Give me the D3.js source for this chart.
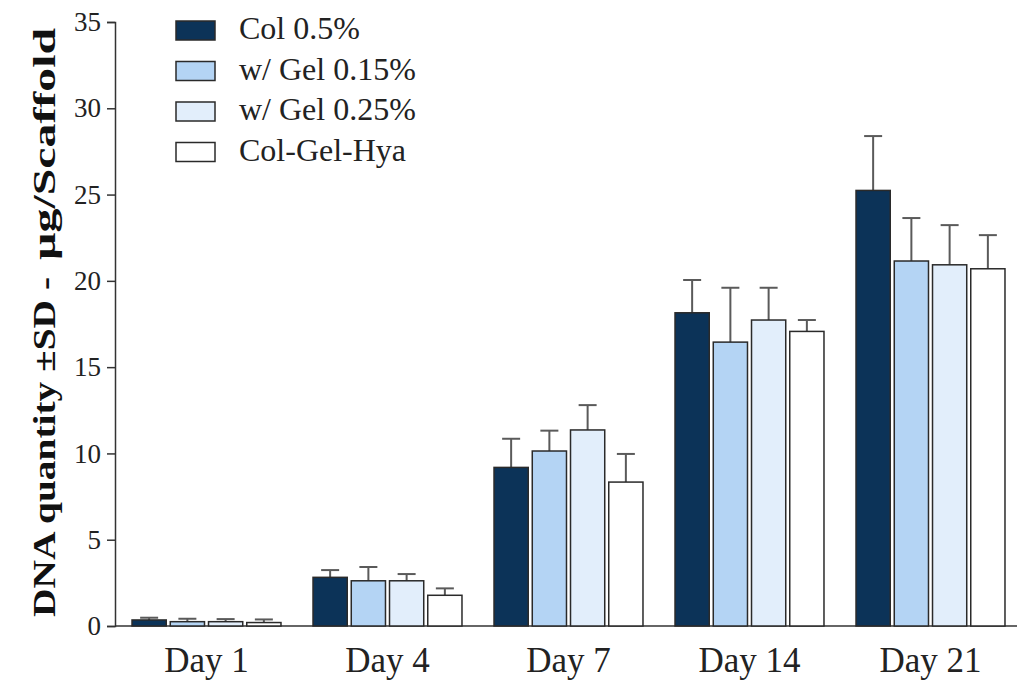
<!DOCTYPE html>
<html>
<head>
<meta charset="utf-8">
<script src="https://cdn.jsdelivr.net/npm/d3@7"></script>
<style>
  html, body { margin: 0; padding: 0; background: #fff; }
  svg { display: block; font-family: "Liberation Serif", "Times New Roman", serif; }
  svg text { font-family: "Liberation Serif", "Times New Roman", serif; }
</style>
</head>
<body>
<svg id="chart" width="1017" height="684"></svg>
<script>
// Time points and scaffold formulations
const days = ["Day 1", "Day 4", "Day 7", "Day 14", "Day 21"];
const series = ["Col 0.5%", "w/ Gel 0.15%", "w/ Gel 0.25%", "Col-Gel-Hya"];

// Mean DNA per scaffold (µg), one array per formulation, ordered by day
const col05   = [0.35, 2.82, 9.19, 18.15, 25.24];
const gel015  = [0.25, 2.62, 10.14, 16.45, 21.15];
const gel025  = [0.25, 2.62, 11.36, 17.73, 20.93];
const colGelHya = [0.20, 1.78, 8.34, 17.07, 20.70];

// Standard deviations, same layout
const col05Sd   = [0.13, 0.42, 1.66, 1.90, 3.15];
const gel015Sd  = [0.17, 0.80, 1.18, 3.15, 2.49];
const gel025Sd  = [0.15, 0.39, 1.44, 1.87, 2.30];
const colGelHyaSd = [0.18, 0.40, 1.63, 0.66, 1.95];

const yTicks = [0, 5, 10, 15, 20, 25, 30, 35];

const means = [col05, gel015, gel025, colGelHya];
const sds = [col05Sd, gel015Sd, gel025Sd, colGelHyaSd];
const colors = ["#0c3358", "#b4d4f4", "#e2eefb", "#ffffff"];

const rows = [];
days.forEach((d, i) => {
  series.forEach((s, j) => {
    rows.push({ day: d, series: s, mean: means[j][i], sd: sds[j][i], color: colors[j] });
  });
});

const svg = d3.select("#chart");
const width = 1017;

const y = d3.scaleLinear().domain([0, 35]).range([626, 22]);
const x = d3.scaleBand().domain(days).range([116, 1021])
  .paddingInner(0.177).paddingOuter(0.0885);
const xs = d3.scaleBand().domain(series).range([0, x.bandwidth()])
  .paddingInner(0.105).paddingOuter(0);

// Y axis
const yAxis = svg.append("g")
  .attr("transform", "translate(115,0)")
  .call(d3.axisLeft(y).tickValues(yTicks).tickSize(8).tickPadding(6));
yAxis.attr("font-family", null);
yAxis.select(".domain").attr("stroke", "#333").attr("stroke-width", 1.5);
yAxis.selectAll(".tick line").attr("stroke", "#333").attr("stroke-width", 1.5);
yAxis.selectAll(".tick text")
  .attr("font-size", 27)
  .attr("fill", "#222");

// X axis line (no ticks) and day labels
svg.append("line")
  .attr("x1", 115).attr("x2", width)
  .attr("y1", y(0)).attr("y2", y(0))
  .attr("stroke", "#333").attr("stroke-width", 1.5);

svg.append("g").selectAll("text")
  .data(days).join("text")
  .attr("x", d => x(d) + x.bandwidth() / 2)
  .attr("y", 672)
  .attr("text-anchor", "middle")
  .attr("font-size", 35)
  .attr("fill", "#222")
  .text(d => d);

// Error bars (upper only), drawn before bars
const err = svg.append("g").attr("stroke", "#5a5a5a").attr("stroke-width", 2);
rows.forEach(r => {
  const cx = x(r.day) + xs(r.series) + xs.bandwidth() / 2;
  err.append("line")
    .attr("x1", cx).attr("x2", cx)
    .attr("y1", y(r.mean)).attr("y2", y(r.mean + r.sd));
  err.append("line")
    .attr("x1", cx - 9).attr("x2", cx + 9)
    .attr("y1", y(r.mean + r.sd)).attr("y2", y(r.mean + r.sd));
});

// Bars
svg.append("g").selectAll("rect")
  .data(rows).join("rect")
  .attr("x", d => x(d.day) + xs(d.series))
  .attr("y", d => y(d.mean))
  .attr("width", xs.bandwidth())
  .attr("height", d => y(0) - y(d.mean))
  .attr("fill", d => d.color)
  .attr("stroke", "#2a2a2a")
  .attr("stroke-width", 1.5);

// Legend
const legend = svg.append("g").attr("transform", "translate(176,21)");
series.forEach((s, j) => {
  const g = legend.append("g").attr("transform", `translate(0,${j * 40.5})`);
  g.append("rect")
    .attr("width", 39).attr("height", 19)
    .attr("fill", colors[j])
    .attr("stroke", "#2a2a2a").attr("stroke-width", 1.5);
  g.append("text")
    .attr("x", 63).attr("y", 18)
    .attr("font-size", 32)
    .attr("fill", "#222")
    .text(s);
});

// Y axis title, reading bottom to top
const title = svg.append("text")
  .attr("transform", "translate(55,617) rotate(-90)")
  .attr("font-size", 32)
  .attr("font-weight", "bold")
  .attr("fill", "#111");
title.append("tspan")
  .attr("x", 0)
  .attr("textLength", 340).attr("lengthAdjust", "spacingAndGlyphs")
  .text("DNA quantity ±SD  -");
title.append("tspan")
  .attr("x", 357)
  .attr("textLength", 232).attr("lengthAdjust", "spacingAndGlyphs")
  .text("µg/Scaffold");
</script>
</body>
</html>
